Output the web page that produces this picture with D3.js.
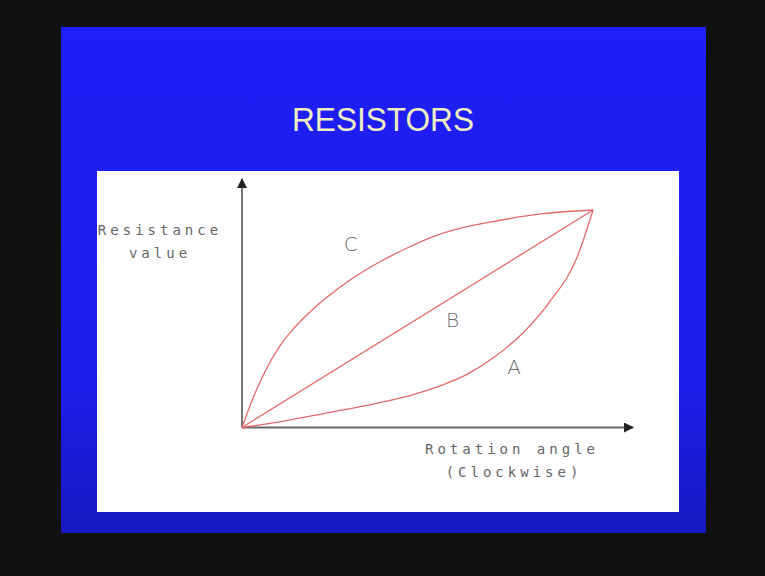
<!DOCTYPE html>
<html>
<head>
<meta charset="utf-8">
<script src="https://cdn.jsdelivr.net/npm/d3@7"></script>
<style>
  body { margin: 0; background: #111210; }
  svg { display: block; }
</style>
</head>
<body>
<div id="vizcontainer"></div>
<script>
const
  width = 765,
  height = 576
  ;

// curve data, rotation (0-100) vs resistance (0-100)
const curveA = [[0, 0], [10.8, 2.6], [25.1, 7.0], [38, 11], [49.3, 15.4], [57, 19.5], [64.1, 24.4], [72, 32.5], [80.1, 43.6], [87.7, 57.9], [95.4, 78.0], [100, 100]];
const curveB = [[0, 0], [100, 100]];
const curveC = [[0, 0], [3, 13], [6.5, 25.5], [10.8, 37.5], [15, 46], [20.3, 54.5], [25.1, 61], [30.8, 67.8], [39.3, 76.2], [46.9, 82.4], [53.6, 87.2], [62, 91.5], [71.5, 94.7], [85.8, 98.3], [100, 100]];
const curveLabels = ['A', 'B', 'C'];
const labelPos = [[77.5, 28], [60, 49.5], [31, 84.5]];

const xScale = d3.scaleLinear()
  .domain([0, 100])
  .range([242, 593]);

const yScale = d3.scaleLinear()
  .domain([0, 100])
  .range([427.5, 210]);

let viz = d3.select('#vizcontainer')
  .append('svg')
  .attr('width', width)
  .attr('height', height);

let defs = viz.append('defs');
let grad = defs.append('linearGradient')
  .attr('id', 'blueGrad')
  .attr('x1', 0).attr('y1', 0).attr('x2', 0).attr('y2', 1);
grad.append('stop').attr('offset', '0%').attr('stop-color', '#1f1ff6');
grad.append('stop').attr('offset', '70%').attr('stop-color', '#1d1deb');
grad.append('stop').attr('offset', '100%').attr('stop-color', '#1818c0');

defs.append('marker')
  .attr('id', 'arrow')
  .attr('viewBox', '0 0 10 10')
  .attr('refX', 9).attr('refY', 5)
  .attr('markerWidth', 10).attr('markerHeight', 10)
  .attr('markerUnits', 'userSpaceOnUse')
  .attr('orient', 'auto')
  .append('path')
  .attr('d', 'M0,0 L10,5 L0,10 Z')
  .attr('fill', '#222');

viz.append('rect')
  .attr('width', width).attr('height', height)
  .attr('fill', '#111210');

// slide
viz.append('rect')
  .attr('x', 61).attr('y', 27)
  .attr('width', 645).attr('height', 506)
  .attr('fill', 'url(#blueGrad)');

viz.append('text')
  .attr('x', 383).attr('y', 131)
  .attr('text-anchor', 'middle')
  .attr('font-family', 'Liberation Sans, Arial, sans-serif')
  .attr('font-size', 33)
  .attr('textLength', 182)
  .attr('lengthAdjust', 'spacingAndGlyphs')
  .attr('fill', '#efedc2')
  .text('RESISTORS');

viz.append('rect')
  .attr('x', 97).attr('y', 171)
  .attr('width', 582).attr('height', 341)
  .attr('fill', '#fefefe');

// axes
let axes = viz.append('g');
axes.append('line')
  .attr('x1', xScale(0)).attr('y1', yScale(0))
  .attr('x2', xScale(0)).attr('y2', 179)
  .attr('stroke', '#555').attr('stroke-width', 1.6)
  .attr('marker-end', 'url(#arrow)');
axes.append('line')
  .attr('x1', xScale(0)).attr('y1', yScale(0))
  .attr('x2', 633).attr('y2', yScale(0))
  .attr('stroke', '#666').attr('stroke-width', 2.2)
  .attr('marker-end', 'url(#arrow)');

// curves
const line = d3.line()
  .x(d => xScale(d[0]))
  .y(d => yScale(d[1]))
  .curve(d3.curveMonotoneX);

viz.append('g')
  .selectAll('path')
  .data([curveA, curveB, curveC])
  .join('path')
  .attr('d', line)
  .attr('fill', 'none')
  .attr('stroke', '#e46a6a')
  .attr('stroke-width', 1.3);

viz.append('g')
  .selectAll('text')
  .data(curveLabels)
  .join('text')
  .attr('x', (d, i) => xScale(labelPos[i][0]))
  .attr('y', (d, i) => yScale(labelPos[i][1]))
  .attr('text-anchor', 'middle')
  .attr('dominant-baseline', 'central')
  .attr('font-family', 'DejaVu Sans, sans-serif')
  .attr('font-weight', 200)
  .attr('font-size', 20)
  .attr('fill', '#6f6f6f')
  .text(d => d);

// axis titles
const axisText = [
  ['Resistance', 160, 235],
  ['value', 160, 258],
  ['Rotation angle', 512, 454],
  ['(Clockwise)', 514, 477]
];
viz.append('g')
  .selectAll('text')
  .data(axisText)
  .join('text')
  .attr('x', d => d[1])
  .attr('y', d => d[2])
  .attr('text-anchor', 'middle')
  .attr('font-family', 'DejaVu Sans Mono, monospace')
  .attr('font-size', 14)
  .attr('letter-spacing', 4)
  .attr('fill', '#666')
  .text(d => d[0]);
</script>
</body>
</html>
